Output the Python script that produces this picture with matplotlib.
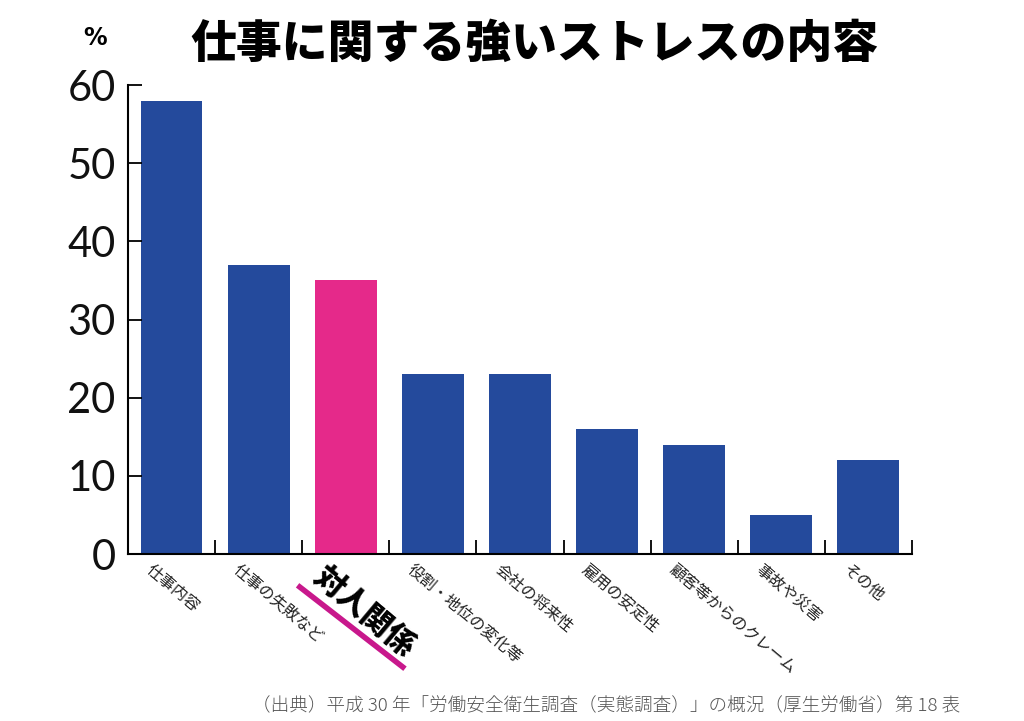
import matplotlib.pyplot as plt
import matplotlib.transforms as mtransforms
from matplotlib.lines import Line2D
import numpy as np

# データ（平成30年 労働安全衛生調査）
categories = ["仕事内容", "仕事の失敗など", "対人関係", "役割・地位の変化等",
              "会社の将来性", "雇用の安定性", "顧客等からのクレーム", "事故や災害", "その他"]
values = [58, 37, 35, 23, 23, 16, 14, 5, 12]
highlight = "対人関係"
yticks = [0, 10, 20, 30, 40, 50, 60]

blue = "#244a9c"
pink = "#e5298a"
jp = ["Noto Sans CJK JP", "DejaVu Sans"]
num = ["Lato", "DejaVu Sans"]

fig = plt.figure(figsize=(10.24, 7.21), dpi=100)
ax = fig.add_axes([0.125, 0.2316, 0.7656, 0.6505])

x = np.arange(len(categories))
colors = [pink if c == highlight else blue for c in categories]
ax.bar(x, values, width=0.71, color=colors)

ax.set_xlim(-0.5, len(categories) - 0.5)
ax.set_ylim(0, 60)
ax.spines["top"].set_visible(False)
ax.spines["right"].set_visible(False)
ax.spines["left"].set_linewidth(1.5)
ax.spines["bottom"].set_linewidth(1.5)

ax.set_yticks(yticks)
ax.set_yticklabels([str(t) for t in yticks], family=num, fontsize=30,
                   fontweight="normal", color="#111111")
ax.tick_params(axis="y", direction="in", length=10, width=1.3, pad=9)

# 目盛りは棒の間に
ax.set_xticks(np.arange(-0.5, len(categories)), minor=True)
ax.tick_params(axis="x", which="minor", direction="in", length=10, width=1.3)
ax.set_xticks(x)
ax.set_xticklabels(categories, rotation=-40, ha="left", va="top", rotation_mode="anchor")
ax.tick_params(axis="x", which="major", length=0, pad=5)

shift = mtransforms.ScaledTranslation(-0.18, 0, fig.dpi_scale_trans)
for lab in ax.get_xticklabels():
    lab.set_transform(lab.get_transform() + shift)
    lab.set_family(jp)
    if lab.get_text() == highlight:
        lab.set_fontsize(22)
        lab.set_fontweight("black")
        lab.set_color("black")
    else:
        lab.set_fontsize(11.5)
        lab.set_color("#222222")

# 対人関係の下線
hi = categories.index(highlight)
base = fig.dpi_scale_trans + mtransforms.ScaledTranslation(hi, 0, ax.get_xaxis_transform())
ax.add_line(Line2D([-0.46, 0.57], [-0.33, -1.13], transform=base,
                   color="#c8188c", linewidth=4, clip_on=False))

fig.text(0.522, 0.938, "仕事に関する強いストレスの内容", family=jp, fontsize=33,
         fontweight="black", ha="center", va="center")
fig.text(0.093, 0.947, "%", family=["DejaVu Sans"], fontsize=17, fontweight="bold",
         ha="center", va="center")
fig.text(0.9375, 0.02, "（出典）平成 30 年「労働安全衛生調査（実態調査）」の概況（厚生労働省）第 18 表",
         family=jp, fontsize=13.4, fontweight="light", color="#555555", ha="right", va="center")

plt.savefig("out.png", dpi=100)
